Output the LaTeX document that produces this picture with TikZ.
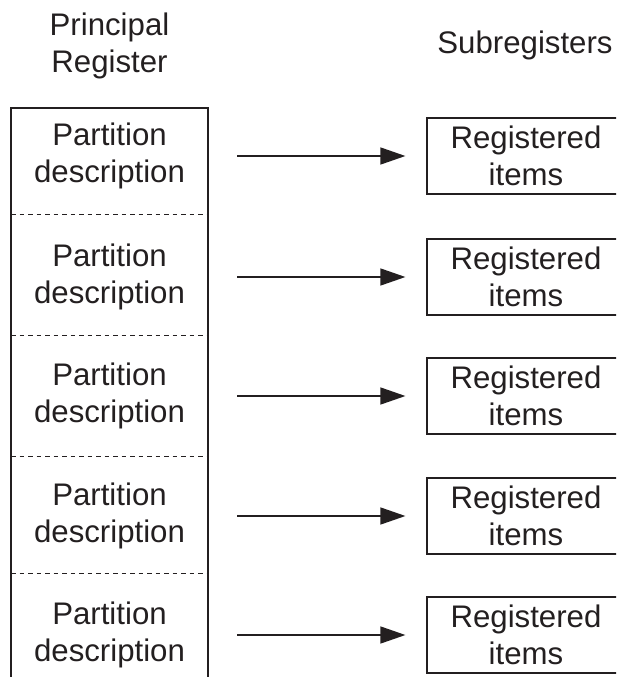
\documentclass[tikz,border=0pt]{standalone}
\usepackage{fontspec}
\setmainfont{Liberation Sans}
\usetikzlibrary{arrows.meta}
\definecolor{ink}{HTML}{231F20}
\begin{document}
\begin{tikzpicture}[x=1pt,y=-1pt,
  lbl/.style={font=\fontsize{31.2}{36.5}\selectfont, align=center, text=ink, inner sep=0pt},
  part/.style={lbl, minimum width=197pt},
  sub/.style={lbl, draw=ink, line width=1.2pt, minimum width=198pt, minimum height=76pt},
  conn/.style={draw=ink, line width=1.4pt, -{Triangle[length=25pt,width=17pt]}},
  divider/.style={draw=ink, dash pattern=on 4.5pt off 4pt, line width=0.9pt},
  frame/.style={draw=ink, line width=1.2pt}]
\useasboundingbox (0,0) rectangle (616,677);
\clip (0,0) rectangle (616,677);
% headings
\node[lbl] (hp) at (109.5,46) {Principal\\Register};
\node[lbl] (hs) at (525,45) {Subregisters};
% principal register frame (open at the bottom)
\draw[frame] (11,680) -- (11,108) -- (208,108) -- (208,680);
\foreach \y in {214,335,456,573}
  \draw[divider] (11,\y) -- (208,\y);
% rows
\foreach \i/\y in {1/156,2/277,3/396,4/516,5/635}{
  \node[part] (p\i) at (109.5,\y) {Partition\\description};
  \node[sub] (r\i) at (526,\y) {Registered\\items};
  \draw[conn] ([xshift=29pt]p\i.east) -- ([xshift=-21pt]r\i.west);
}
\end{tikzpicture}
\end{document}
